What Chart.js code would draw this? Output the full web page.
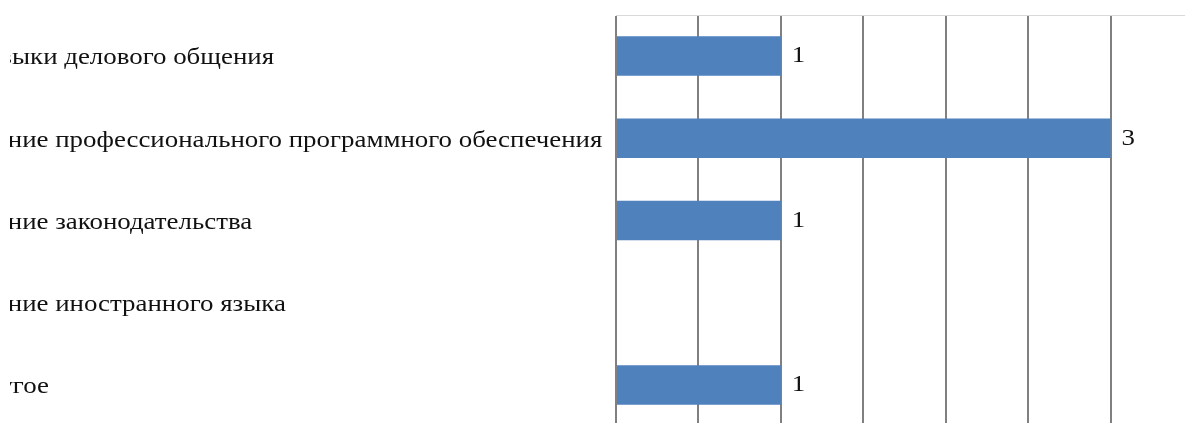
<!DOCTYPE html>
<html>
<head>
<meta charset="utf-8">
<script src="https://cdn.jsdelivr.net/npm/chart.js@4/dist/chart.umd.min.js"></script>
<style>
  html, body { margin: 0; padding: 0; background: #fff; overflow: hidden; }
  #wrap { position: absolute; left: -40px; top: 0; width: 1233px; height: 440px; }
</style>
</head>
<body>
<div id="wrap"><canvas id="skillsChart"></canvas></div>
<script>
/* Data */

const categories = [
    "Навыки делового общения",
    "Знание профессионального программного обеспечения",
    "Знание законодательства",
    "Знание иностранного языка",
    "Другое"
];

const answers = [1, 3, 1, 0, 1];

const axisMax = 3.5;
const axisStep = 0.5;

const textFont = "24px 'Liberation Serif'";
const stretch = 1.12;   // the source picture is a little wider than tall


/* Category names and values, drawn slightly stretched */

const textLayer = {
    id: "textLayer",
    afterDatasetsDraw(chart) {
        const ctx = chart.ctx;
        const yScale = chart.scales.y;
        const meta = chart.getDatasetMeta(0);

        // category names: the original is cut off on the left
        ctx.save();
        ctx.beginPath();
        ctx.rect(50, 0, chart.width, chart.height);
        ctx.clip();
        ctx.font = textFont;
        ctx.fillStyle = "#111";
        ctx.textAlign = "left";
        ctx.textBaseline = "middle";
        ctx.scale(stretch, 1);
        categories.forEach((name, i) => {
            ctx.fillText(name, 8 / stretch, yScale.getPixelForTick(i) + 2);
        });
        ctx.restore();

        ctx.save();
        ctx.font = textFont;
        ctx.fillStyle = "#111";
        ctx.textAlign = "left";
        ctx.textBaseline = "middle";
        ctx.scale(stretch, 1);
        meta.data.forEach((bar, i) => {
            if (!answers[i]) return;
            ctx.fillText(String(answers[i]), (bar.x + 11) / stretch, bar.y);
        });
        ctx.restore();
    }
};


/* Create Chart */

const skillsChart = new Chart(document.getElementById("skillsChart"), {

    type: "bar",

    data: {
        labels: categories,
        datasets: [{
            data: answers,
            backgroundColor: "#4F81BD",
            borderWidth: 0,
            categoryPercentage: 1,
            barPercentage: 0.48
        }]
    },

    options: {
        indexAxis: "y",
        responsive: true,
        maintainAspectRatio: false,
        animation: false,
        layout: {
            padding: { left: 0, top: 15, bottom: 14, right: 0 }
        },
        plugins: {
            legend: { display: false },
            tooltip: { enabled: false }
        },
        scales: {
            x: {
                position: "top",
                min: 0,
                max: axisMax,
                ticks: { display: false, stepSize: axisStep },
                grid: { color: "#808080", lineWidth: 2, drawTicks: false },
                border: { color: "#d9d9d9", width: 1 }
            },
            y: {
                afterFit(scale) { scale.width = 656; },
                grid: { display: false },
                border: { display: false },
                ticks: { display: false }
            }
        }
    },

    plugins: [textLayer]

});
</script>
</body>
</html>
